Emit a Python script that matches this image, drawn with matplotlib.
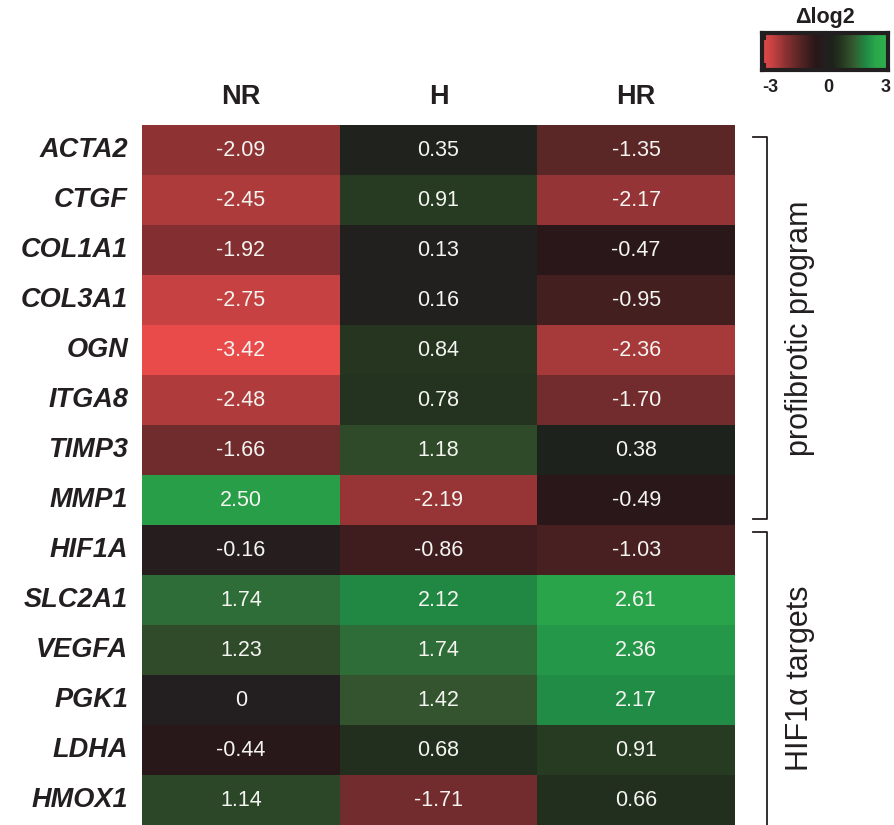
import numpy as np
import matplotlib
matplotlib.use("Agg")
import matplotlib.pyplot as plt
from matplotlib.colors import LinearSegmentedColormap, Normalize
from matplotlib.lines import Line2D

plt.rcParams['font.family'] = ['Liberation Sans', 'DejaVu Sans']

genes = ["ACTA2", "CTGF", "COL1A1", "COL3A1", "OGN", "ITGA8", "TIMP3", "MMP1",
         "HIF1A", "SLC2A1", "VEGFA", "PGK1", "LDHA", "HMOX1"]
conditions = ["NR", "H", "HR"]
nr = [-2.09, -2.45, -1.92, -2.75, -3.42, -2.48, -1.66, 2.50,
      -0.16, 1.74, 1.23, 0, -0.44, 1.14]
h = [0.35, 0.91, 0.13, 0.16, 0.84, 0.78, 1.18, -2.19,
     -0.86, 2.12, 1.74, 1.42, 0.68, -1.71]
hr = [-1.35, -2.17, -0.47, -0.95, -2.36, -1.70, 0.38, -0.49,
      -1.03, 2.61, 2.36, 2.17, 0.91, 0.66]
labels = [["-2.09", "0.35", "-1.35"], ["-2.45", "0.91", "-2.17"],
          ["-1.92", "0.13", "-0.47"], ["-2.75", "0.16", "-0.95"],
          ["-3.42", "0.84", "-2.36"], ["-2.48", "0.78", "-1.70"],
          ["-1.66", "1.18", "0.38"], ["2.50", "-2.19", "-0.49"],
          ["-0.16", "-0.86", "-1.03"], ["1.74", "2.12", "2.61"],
          ["1.23", "1.74", "2.36"], ["0", "1.42", "2.17"],
          ["-0.44", "0.68", "0.91"], ["1.14", "-1.71", "0.66"]]
groups = [("profibrotic program", 0, 8), ("HIF1\u03b1 targets", 8, 14)]

data = np.column_stack([nr, h, hr])

# red - near-black - green scale, anchored at log2 values
vmin, vmax = -3.5, 3.5
anchors = [(-3.5, "#ec4c4c"), (-2.75, "#c64242"), (-2.1, "#8e3234"),
           (-1.35, "#5a2626"), (-0.5, "#2a1719"), (0.0, "#231f20"),
           (0.4, "#1e221c"), (0.85, "#253620"), (1.2, "#2e4a28"),
           (1.45, "#345630"), (1.75, "#2e6e38"), (2.15, "#1f8a44"),
           (2.4, "#269848"), (2.65, "#2aa64a"), (3.5, "#30b850")]
cmap = LinearSegmentedColormap.from_list(
    "rkg", [((v - vmin) / (vmax - vmin), c) for v, c in anchors])
norm = Normalize(vmin=vmin, vmax=vmax)

W, H = 895, 825
fig = plt.figure(figsize=(W / 100, H / 100), dpi=100)

def fx(px):
    return px / W

def fy(py):
    return 1 - py / H

ink = "#231f20"
left, right, top, bottom = 142, 735, 125, 825
ax = fig.add_axes([fx(left), fy(bottom), fx(right - left), fy(top) - fy(bottom)])
ax.pcolormesh(np.arange(4), np.arange(15), data, cmap=cmap, norm=norm)
ax.set_xlim(0, 3)
ax.set_ylim(14, 0)
for s in ax.spines.values():
    s.set_visible(False)
ax.set_xticks([])
ax.set_yticks([])

for i in range(len(genes)):
    for j in range(3):
        ax.text(j + 0.5, i + 0.5, labels[i][j], ha="center", va="center",
                color="#f4f4f0", fontsize=15.5)
    ax.text(-0.07, i + 0.5, genes[i], ha="right", va="center",
            fontsize=19.5, fontweight="bold", fontstyle="italic", color=ink)
for j, c in enumerate(conditions):
    ax.text(j + 0.5, -0.55, c, ha="center", va="center", fontsize=19.5,
            fontweight="bold", color=ink)

# group brackets on the right
xv = fx(767)
xt = fx(753)
ytop = [137, 532]
ybot = [519, 830]
for (name, r0, r1), yt, yb in zip(groups, ytop, ybot):
    fig.add_artist(Line2D([xt, xv, xv, xt], [fy(yt), fy(yt), fy(yb), fy(yb)],
                          transform=fig.transFigure, color=ink, lw=1.3))
    fig.text(fx(800), fy((yt + min(yb, 825)) / 2), name, rotation=90,
             ha="center", va="center", fontsize=22, color=ink)

# colour scale
cax = fig.add_axes([fx(762), fy(70), fx(888 - 762), fy(33) - fy(70)])
grad = np.linspace(-3, 3, 256)[None, :]
cax.imshow(grad, aspect="auto", cmap=cmap, norm=Normalize(vmin=-3.2, vmax=3.2),
           extent=[-3, 3, 0, 1])
cax.set_xticks([])
cax.set_yticks([])
for s in cax.spines.values():
    s.set_linewidth(3)
    s.set_color(ink)
cax.plot([-2.85, -2.85], [0.85, 1.0], color=ink, lw=1.5)
cax.plot([-2.85, -2.85], [0.0, 0.15], color=ink, lw=1.5)
cax.set_xlim(-3, 3)
cax.set_ylim(0, 1)
fig.text(fx(825), fy(18), "\u0394log2", ha="center", va="center",
         fontsize=15.5, fontweight="bold", color=ink)
for px, t in [(770, "-3"), (828, "0"), (886, "3")]:
    fig.text(fx(px), fy(88), t, ha="center", va="center", fontsize=13,
             fontweight="bold", color=ink)

fig.savefig("out.png", dpi=100, facecolor="white")
